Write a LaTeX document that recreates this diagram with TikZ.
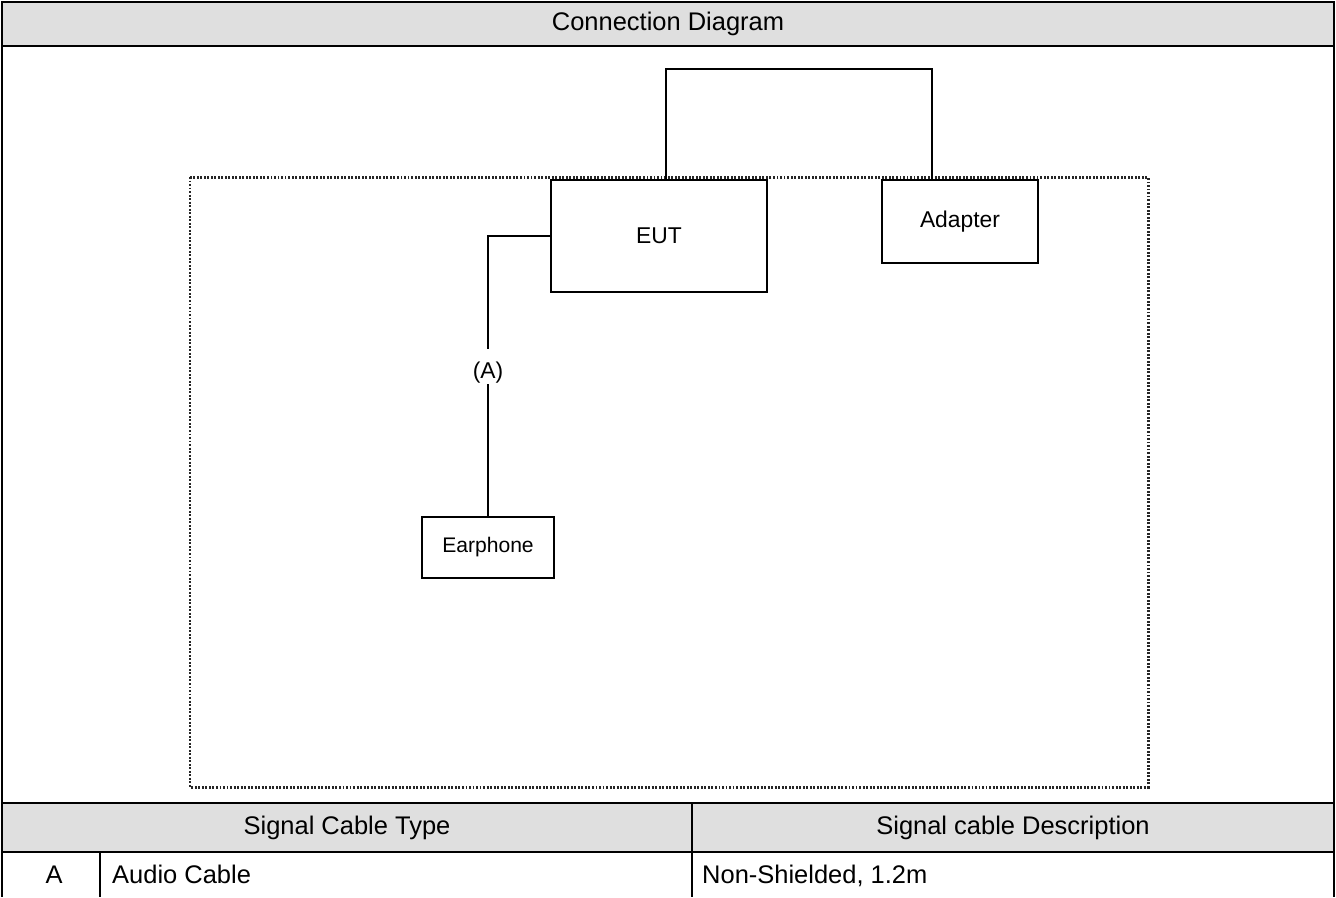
\documentclass[tikz,border=0pt]{standalone}
\usepackage{fontspec}
\setmainfont{Liberation Sans}
\usetikzlibrary{positioning}

\begin{document}
\begin{tikzpicture}[x=0.02cm,y=-0.02cm,
	box/.style={draw,thick,minimum width=#1},
	cell/.style={font=\fontsize{14.5}{17}\selectfont},
	lbl/.style={font=\fontsize{13}{15}\selectfont},
	thickline/.style={line width=1.4pt},
	thinline/.style={line width=0.6pt},
	dotline/.style={line width=1.7pt,black!85,dash pattern=on 1.1pt off 0.9pt}]
\useasboundingbox (0,0) rectangle (1336,897);

% table frame
\fill[gray!25] (2,2) rectangle (1334,46);
\fill[gray!25] (2,803) rectangle (1334,852);
\draw[thinline] (2,2) -- (2,897) (1334,2) -- (1334,897);
\draw[thickline] (1,2) -- (1335,2) (1,46) -- (1335,46) (1,803) -- (1335,803);
\draw[thinline] (2,852) -- (1334,852) (692,803) -- (692,897) (100,852) -- (100,897);

\node[cell] (T) at (668,24) {Connection Diagram};
\node[cell] (H1) at (347,828) {Signal Cable Type};
\node[cell] (H2) at (1013,828) {Signal cable Description};
\node[cell,anchor=base] (C1) at (54,883) {A};
\node[cell,anchor=base west] (C2) at (106,883) {Audio Cable};
\node[cell,anchor=base west] (C3) at (696,883) {Non-Shielded, 1.2m};

% test area
\draw[dotline] (190,177) rectangle (1148,787);

\node[box=4.32cm,minimum height=2.24cm,lbl] (U) at (659,236) {EUT};
\node[box=3.12cm,minimum height=1.66cm,lbl] (D) at (960,221.5) {Adapter};
\node[box=2.64cm,minimum height=1.22cm,font=\fontsize{12}{14}\selectfont] (P) at (488,547.5) {Earphone};

\coordinate (k1) at (666,69);
\coordinate (k2) at (932,69);
\draw[thick] (U.north -| k1) -- (k1) -- (k2) -- (D.north -| k2);
\node[lbl,inner sep=0pt] (L) at (488,373) {(A)};
\draw[thick] (U.west) -| ([yshift=0.26cm]L.north);
\draw[thick] (L.south) -- (P.north);
\end{tikzpicture}
\end{document}
